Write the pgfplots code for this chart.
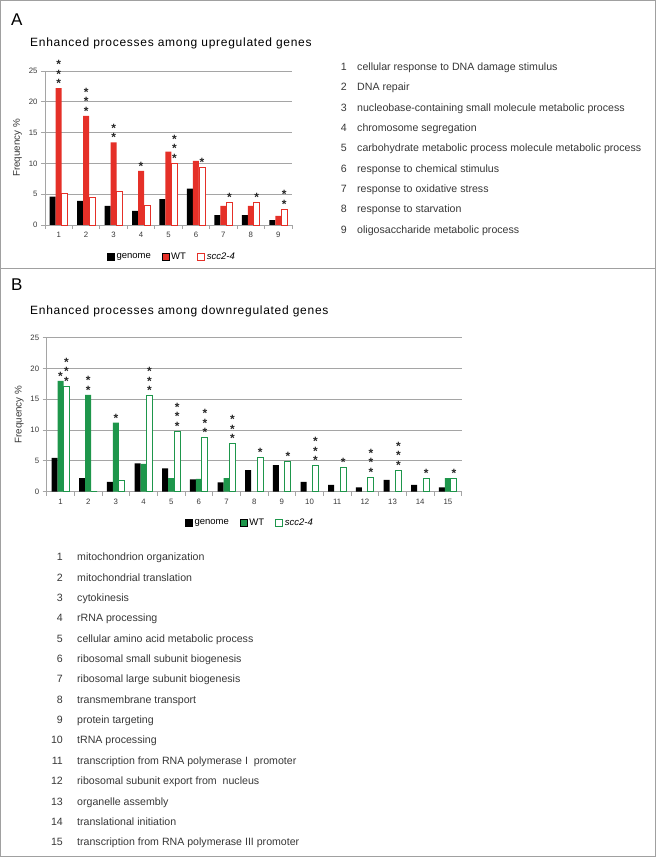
\documentclass[border=0pt]{standalone}
\usepackage{fontspec}
\setmainfont{Liberation Sans}
\newfontfamily\titlefont[LetterSpace=6]{Liberation Sans}
\usepackage{pgfplots}
\usepackage{pgfplotstable}
\pgfplotsset{compat=1.18}

\definecolor{wtred}{RGB}{229,48,40}
\definecolor{wtgreen}{RGB}{30,150,75}
\definecolor{framegray}{RGB}{160,160,160}
\definecolor{gridgray}{RGB}{165,165,165}
\definecolor{textgray}{RGB}{55,55,55}

% significance stars, stacked: 0..3
\newcommand{\stars}[1]{\ifcase#1\relax\or*\or*\\*\or*\\*\\*\fi}

% A: upregulated genes (frequency %, stars)
\pgfplotstableread{
x genome wt wts scc sccs
1 4.6 22.2 3 5.2 0
2 3.9 17.7 3 4.4 0
3 3.1 13.4 2 5.4 0
4 2.3 8.8 1 3.2 0
5 4.2 11.9 0 10.0 3
6 5.9 10.4 0 9.4 1
7 1.6 3.1 0 3.7 1
8 1.6 3.1 0 3.6 1
9 0.8 1.5 0 2.6 2
}\upreg

% B: downregulated genes
\pgfplotstableread{
x genome wt wts scc sccs
1 5.5 18.0 1 17.1 3
2 2.2 15.7 2 0 0
3 1.6 11.2 1 1.9 0
4 4.6 4.5 0 15.6 3
5 3.8 2.2 0 9.8 3
6 2.0 2.1 0 8.8 3
7 1.5 2.2 0 7.8 3
8 3.5 0 0 5.6 1
9 4.3 0 0 4.9 1
10 1.6 0 0 4.2 3
11 1.1 0 0 3.9 1
12 0.7 0 0 2.4 3
13 1.9 0 0 3.5 3
14 1.1 0 0 2.2 1
15 0.7 2.2 0 2.1 1
}\downreg

\pgfplotsset{
  panel/.style={
    ybar=0pt, bar width=6pt,
    scale only axis, height=154pt,
    ymin=0, ymax=25, ytick={0,5,...,25},
    xmin=0.5,
    axis x line*=bottom, axis y line*=left,
    axis line style={gridgray, line width=0.8pt},
    ymajorgrids, grid style={gridgray, line width=0.8pt},
    tick align=outside,
    major tick length=4pt, minor tick length=4pt,
    every major x tick/.append style={draw=none},
    every tick/.append style={gridgray, line width=0.8pt},
    tick label style={font=\fontsize{7.8}{9}\selectfont, text=textgray},
    /pgf/number format/assume math mode=true,
    ylabel={Frequency \%},
    ylabel style={font=\fontsize{9.8}{11}\selectfont, text=textgray},
    legend columns=3,
    legend image code/.code={\draw[##1] (0pt,-3.5pt) rectangle (7pt,3.5pt);},
    clip=false,
  },
  starnodes/.style={
    nodes near coords={\stars{\pgfplotspointmeta}},
    point meta=explicit symbolic,
    every node near coord/.append style={font=\bfseries\fontsize{12}{9.5}\selectfont,
      align=center, inner sep=0.5pt, text=black!85},
  },
}

\begin{document}
\begin{tikzpicture}
\path[use as bounding box] (0,0) rectangle (656pt,857pt);
\draw[framegray, line width=1pt] (0.5pt,0.5pt) rectangle (655.5pt,856.5pt);
\draw[framegray, line width=1pt] (0,588pt) -- (656pt,588pt);

% ---------- panel A ----------
\node[anchor=west, inner sep=0, font=\fontsize{17}{17}\selectfont] at (11pt,837pt) {A};
\node[anchor=west, inner sep=0, font=\titlefont\fontsize{12}{13}\selectfont] at (30pt,814pt)
  {Enhanced processes among upregulated genes};

\begin{axis}[panel,
  at={(45pt,632pt)}, anchor=south west,
  width=247pt, xmax=9.5,
  xtick={1,...,9}, minor xtick={0.5,1.5,...,9.5},
  legend style={at={(0.514,-0.208)}, anchor=center, draw=none, fill=none,
    font=\fontsize{9.5}{11}\selectfont,
    /tikz/every even column/.append style={column sep=9pt}},
]
\addplot[fill=black, draw=none] table[x=x, y=genome] {\upreg};
\addplot[fill=wtred, draw=none, starnodes] table[x=x, y=wt, meta=wts] {\upreg};
\addplot[fill=white, draw=wtred, line width=0.8pt, starnodes] table[x=x, y=scc, meta=sccs] {\upreg};
\legend{genome, WT, \textit{scc2-4}}
\end{axis}

\begin{scope}[font=\fontsize{10.6}{12}\selectfont, text=textgray]
\foreach \n/\t [count=\i from 0] in {
  1/cellular response to DNA damage stimulus,
  2/DNA repair,
  3/nucleobase-containing small molecule metabolic process,
  4/chromosome segregation,
  5/carbohydrate metabolic process molecule metabolic process,
  6/response to chemical stimulus,
  7/response to oxidative stress,
  8/response to starvation,
  9/oligosaccharide metabolic process}{
  \node[anchor=base east, inner sep=0] at (347pt,{786.3pt-\i*20.3pt}) {\n};
  \node[anchor=base west, inner sep=0] at (357pt,{786.3pt-\i*20.3pt}) {\t};
}
\end{scope}

% ---------- panel B ----------
\node[anchor=west, inner sep=0, font=\fontsize{17}{17}\selectfont] at (11pt,572pt) {B};
\node[anchor=west, inner sep=0, font=\titlefont\fontsize{12}{13}\selectfont] at (30pt,546pt)
  {Enhanced processes among downregulated genes};

\begin{axis}[panel,
  at={(46.7pt,365.3pt)}, anchor=south west,
  width=415pt, xmax=15.5,
  xtick={1,...,15}, minor xtick={0.5,1.5,...,15.5},
  legend style={at={(0.49,-0.203)}, anchor=center, draw=none, fill=none,
    font=\fontsize{9.5}{11}\selectfont,
    /tikz/every even column/.append style={column sep=9pt}},
]
\addplot[fill=black, draw=none] table[x=x, y=genome] {\downreg};
\addplot[fill=wtgreen, draw=none, starnodes] table[x=x, y=wt, meta=wts] {\downreg};
\addplot[fill=white, draw=wtgreen, line width=0.8pt, starnodes] table[x=x, y=scc, meta=sccs] {\downreg};
\legend{genome, WT, \textit{scc2-4}}
\end{axis}

\begin{scope}[font=\fontsize{10.6}{12}\selectfont, text=textgray]
\foreach \n/\t [count=\i from 0] in {
  1/mitochondrion organization,
  2/mitochondrial translation,
  3/cytokinesis,
  4/rRNA processing,
  5/cellular amino acid metabolic process,
  6/ribosomal small subunit biogenesis,
  7/ribosomal large subunit biogenesis,
  8/transmembrane transport,
  9/protein targeting,
  10/tRNA processing,
  11/transcription from RNA polymerase I~ promoter,
  12/ribosomal subunit export from~ nucleus,
  13/organelle assembly,
  14/translational initiation,
  15/transcription from RNA polymerase III promoter}{
  \node[anchor=base east, inner sep=0] at (63pt,{296.3pt-\i*20.36pt}) {\n};
  \node[anchor=base west, inner sep=0] at (77pt,{296.3pt-\i*20.36pt}) {\t};
}
\end{scope}
\end{tikzpicture}
\end{document}
